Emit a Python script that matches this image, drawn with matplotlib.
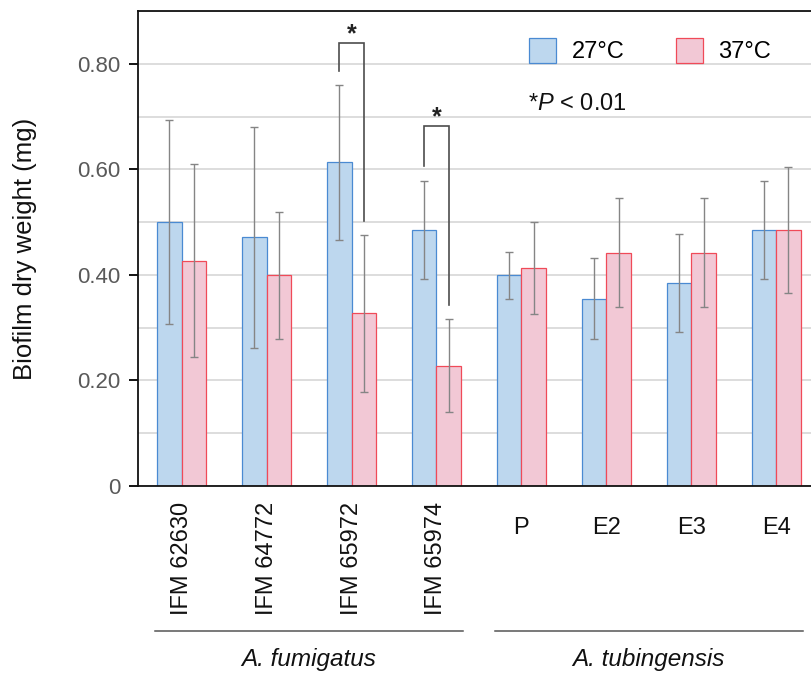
import matplotlib
matplotlib.use("Agg")
import matplotlib.pyplot as plt
from matplotlib.patches import Patch
from matplotlib.ticker import MultipleLocator, FixedLocator, FixedFormatter
import numpy as np

plt.rcParams['font.family'] = ['Liberation Sans', 'DejaVu Sans']
plt.rcParams['mathtext.fontset'] = 'custom'
plt.rcParams['mathtext.it'] = 'Liberation Sans:italic'
plt.rcParams['mathtext.rm'] = 'Liberation Sans'

# ---- data ----
categories = ["IFM 62630", "IFM 64772", "IFM 65972", "IFM 65974", "P", "E2", "E3", "E4"]
rotated = [True, True, True, True, False, False, False, False]
species = ["A. fumigatus", "A. tubingensis"]
species_groups = [(0, 3), (4, 7)]
series_names = ["27°C", "37°C"]
mean_27 = [0.500, 0.471, 0.613, 0.485, 0.399, 0.355, 0.385, 0.485]
err_27 = [0.193, 0.210, 0.146, 0.092, 0.045, 0.077, 0.093, 0.092]
mean_37 = [0.427, 0.399, 0.327, 0.228, 0.413, 0.442, 0.442, 0.485]
err_37 = [0.183, 0.120, 0.148, 0.088, 0.087, 0.103, 0.103, 0.120]
# significance brackets: group index, top, left-leg bottom, right-leg bottom
sig_group = [2, 3]
sig_top = [0.840, 0.683]
sig_left_low = [0.786, 0.607]
sig_right_low = [0.502, 0.343]
y_ticks = [0, 0.2, 0.4, 0.6, 0.8]
y_ticklabels = ["0", "0.20", "0.40", "0.60", "0.80"]
note = "*$P$ < 0.01"

# ---- style ----
blue_fill, blue_edge = "#bdd7ee", "#4a8ad2"
pink_fill, pink_edge = "#f2c8d5", "#f04a58"
err_color = "#858585"
grid_color = "#d3d3d3"
bracket_color = "#4d4d4d"
tick_color = "#595959"

W, H = 812, 674
fig = plt.figure(figsize=(W / 100, H / 100), dpi=100)
x = np.arange(len(categories))
group_px = 84.94
xl, xr = -0.514, 7.514
ax_left_px, ax_bottom_px, ax_top_px = 138, 486, 11
ax_w_px = (xr - xl) * group_px
ax = fig.add_axes([ax_left_px / W, (H - ax_bottom_px) / H, ax_w_px / W,
                   (ax_bottom_px - ax_top_px) / H])

bw = 0.2885
ax.bar(x - bw / 2, mean_27, bw, color=blue_fill, edgecolor=blue_edge, linewidth=0.9, zorder=2)
ax.bar(x + bw / 2, mean_37, bw, color=pink_fill, edgecolor=pink_edge, linewidth=0.9, zorder=2)
ax.errorbar(x - bw / 2, mean_27, yerr=err_27, fmt='none', ecolor=err_color,
            elinewidth=1.0, capsize=3.2, capthick=1.0, zorder=3)
ax.errorbar(x + bw / 2, mean_37, yerr=err_37, fmt='none', ecolor=err_color,
            elinewidth=1.0, capsize=3.2, capthick=1.0, zorder=3)

# significance brackets
for g, top, lo_l, lo_r in zip(sig_group, sig_top, sig_left_low, sig_right_low):
    xs = [g - bw / 2, g - bw / 2, g + bw / 2, g + bw / 2]
    ys = [lo_l, top, top, lo_r]
    ax.plot(xs, ys, color=bracket_color, lw=1.2, zorder=4, solid_joinstyle='miter')
    ax.text(g, top + 0.002, "*", ha='center', va='baseline', fontsize=18,
            fontweight='bold', color='#222222')

ax.set_xlim(xl, xr)
ax.set_ylim(0, 0.9)
ax.yaxis.set_major_locator(FixedLocator(y_ticks))
ax.yaxis.set_major_formatter(FixedFormatter(y_ticklabels))
ax.yaxis.set_minor_locator(MultipleLocator(0.1))
ax.tick_params(axis='y', which='major', length=6.5, width=1.3, direction='out',
               labelsize=16, labelcolor=tick_color, pad=6)
ax.tick_params(axis='y', which='minor', length=0)
ax.grid(axis='y', which='both', color=grid_color, lw=1.1)
ax.set_axisbelow(True)
ax.set_xticks([])
for s in ['left', 'top', 'bottom']:
    ax.spines[s].set_linewidth(1.3)
    ax.spines[s].set_color('#111111')
ax.spines['right'].set_visible(False)

# category labels
xt = ax.get_xaxis_transform()
for i, (lab, rot) in enumerate(zip(categories, rotated)):
    if rot:
        ax.text(i, -0.034, lab, rotation=90, ha='center', va='top', fontsize=17,
                transform=xt, color='#111111')
    else:
        ax.text(i, -0.0875, lab, ha='center', va='center', fontsize=17,
                transform=xt, color='#111111')

# species underlines and labels
for (a, b), sp in zip(species_groups, species):
    ax.plot([a - 0.314, b + 0.318], [-0.3053, -0.3053], transform=xt, clip_on=False,
            color='#555555', lw=1.1)
    ax.text((a + b) / 2 + 0.0, -0.366, sp, ha='center', va='center', fontsize=17.5,
            style='italic', transform=xt, color='#111111')

fig.text(25.5 / W, 1 - 249 / H, "Biofilm dry weight (mg)", rotation=90,
         ha='center', va='center', fontsize=18.5, color='#111111')

handles = [Patch(facecolor=blue_fill, edgecolor=blue_edge, linewidth=0.9),
           Patch(facecolor=pink_fill, edgecolor=pink_edge, linewidth=0.9)]
ax.legend(handles, series_names, ncol=2, loc='center left',
          bbox_to_anchor=(529.3 / W, 1 - 50.5 / H), bbox_transform=fig.transFigure,
          frameon=False, fontsize=17, handlelength=1.15, handleheight=1.25,
          handletextpad=0.64, columnspacing=2.2, borderpad=0, borderaxespad=0)

fig.text(527.7 / W, 1 - 104 / H, note, ha='left', va='center', fontsize=17, color='#111111')

fig.savefig("out.png", dpi=100)
